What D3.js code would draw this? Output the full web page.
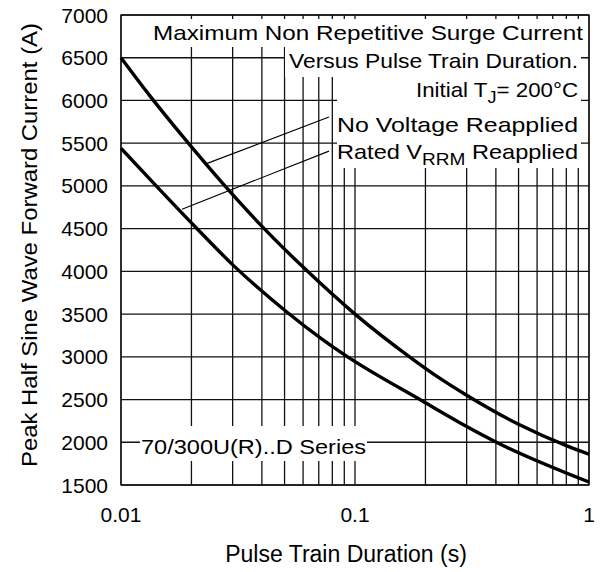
<!DOCTYPE html>
<html>
<head>
<meta charset="utf-8">
<script src="https://cdn.jsdelivr.net/npm/d3@7"></script>
<style>
  body { margin: 0; background: #fff; }
  text { font-family: "Liberation Sans", Arial, sans-serif; fill: #000; }
</style>
</head>
<body>
<svg width="609" height="572"></svg>
<script>
// curve readings: pulse train duration (s) -> peak current (A)
var noVoltT = [0.01, 0.0135, 0.0194, 0.0278, 0.0393, 0.06, 0.1, 0.175, 0.23, 0.3, 0.5, 0.8, 1];
var noVoltA = [6500, 6030, 5500, 5000, 4550, 4050, 3500, 2980, 2750, 2550, 2210, 1960, 1860];
var ratedT = [0.01, 0.0142, 0.0207, 0.0302, 0.0511, 0.0708, 0.09, 0.195, 0.3, 0.396, 1];
var ratedA = [5440, 4995, 4525, 4070, 3525, 3225, 3025, 2480, 2185, 2010, 1535];
var yTicks = [1500, 2000, 2500, 3000, 3500, 4000, 4500, 5000, 5500, 6000, 6500, 7000];
var xTickLabels = [[0.01, "0.01"], [0.1, "0.1"], [1, "1"]];
// leader lines: [from curve point, to label point] in data units
var leaders = [[[0.0229, 5255], [0.0774, 5806]], [[0.01823, 4728], [0.0774, 5407]]];

var svg = d3.select("svg"),
    margin = {top: 15, right: 20, bottom: 87, left: 121},
    width = +svg.attr("width") - margin.left - margin.right,
    height = +svg.attr("height") - margin.top - margin.bottom,
    g = svg.append("g").attr("transform", "translate(" + margin.left + "," + margin.top + ")");

var x = d3.scaleLog().domain([0.01, 1]).range([0, width]);
var y = d3.scaleLinear().domain([1500, 7000]).range([height, 0]);

// grid
g.append("g").selectAll("line").data(x.ticks())
  .enter().append("line")
    .attr("x1", function(d) { return x(d); }).attr("x2", function(d) { return x(d); })
    .attr("y1", 0).attr("y2", height)
    .attr("stroke", "#111").attr("stroke-width", 1.3);
g.append("g").selectAll("line").data(yTicks)
  .enter().append("line")
    .attr("x1", 0).attr("x2", width)
    .attr("y1", function(d) { return y(d); }).attr("y2", function(d) { return y(d); })
    .attr("stroke", "#111").attr("stroke-width", 1.3);

// white boxes behind the annotation text
var boxes = [[150, 19, 581, 47], [285, 47, 581, 77], [337, 77, 581, 168], [140, 426, 367, 461]];
svg.append("g").selectAll("rect").data(boxes)
  .enter().append("rect")
    .attr("x", function(d) { return d[0]; }).attr("y", function(d) { return d[1]; })
    .attr("width", function(d) { return d[2] - d[0]; }).attr("height", function(d) { return d[3] - d[1]; })
    .attr("fill", "#fff");

// frame
g.append("rect").attr("width", width).attr("height", height)
  .attr("fill", "none").attr("stroke", "#111").attr("stroke-width", 1.3);

// curves
var line = d3.line()
    .x(function(d) { return x(d[0]); })
    .y(function(d) { return y(d[1]); })
    .curve(d3.curveMonotoneX);

[[noVoltT, noVoltA], [ratedT, ratedA]].forEach(function(s) {
  g.append("path")
      .datum(d3.zip(s[0], s[1]))
      .attr("fill", "none")
      .attr("stroke", "#000")
      .attr("stroke-width", 3.4)
      .attr("stroke-linejoin", "round")
      .attr("d", line);
});

g.selectAll(".leader").data(leaders)
  .enter().append("line")
    .attr("x1", function(d) { return x(d[0][0]); }).attr("y1", function(d) { return y(d[0][1]); })
    .attr("x2", function(d) { return x(d[1][0]); }).attr("y2", function(d) { return y(d[1][1]); })
    .attr("stroke", "#000").attr("stroke-width", 1.1);

// axis labels
g.append("g").selectAll("text").data(yTicks)
  .enter().append("text")
    .attr("x", -13).attr("y", function(d) { return y(d); })
    .attr("dy", "0.36em")
    .attr("text-anchor", "end")
    .style("font-size", "21px")
    .text(function(d) { return d; });

g.append("g").selectAll("text").data(xTickLabels)
  .enter().append("text")
    .attr("x", function(d) { return x(d[0]); }).attr("y", height + 37)
    .attr("text-anchor", "middle")
    .style("font-size", "21px")
    .text(function(d) { return d[1]; });

svg.append("text")
    .attr("x", 346).attr("y", 562)
    .attr("text-anchor", "middle")
    .style("font-size", "23px")
    .text("Pulse Train Duration (s)");

svg.append("text")
    .attr("transform", "translate(37,245) rotate(-90)")
    .attr("text-anchor", "middle")
    .attr("textLength", 444).attr("lengthAdjust", "spacingAndGlyphs")
    .style("font-size", "22px")
    .text("Peak Half Sine Wave Forward Current (A)");

// annotation text
function note(x0, yb, len, parts) {
  var t = svg.append("text").attr("x", x0).attr("y", yb)
      .attr("textLength", len).attr("lengthAdjust", "spacingAndGlyphs")
      .style("font-size", "21px");
  parts.forEach(function(p) {
    var s = t.append("tspan").text(p[0]);
    if (p[1] == "sub") s.attr("dy", 6).style("font-size", "17px");
    if (p[1] == "up") s.attr("dy", -6);
  });
}
note(153, 40, 430, [["Maximum Non Repetitive Surge Current"]]);
note(289, 68, 289, [["Versus Pulse Train Duration."]]);
note(416, 97, 162, [["Initial T"], ["J", "sub"], ["= 200°C", "up"]]);
note(337, 132, 241, [["No Voltage Reapplied"]]);
note(337, 159, 241, [["Rated V"], ["RRM", "sub"], [" Reapplied", "up"]]);
note(141, 454, 225, [["70/300U(R)..D Series"]]);
</script>
</body>
</html>
